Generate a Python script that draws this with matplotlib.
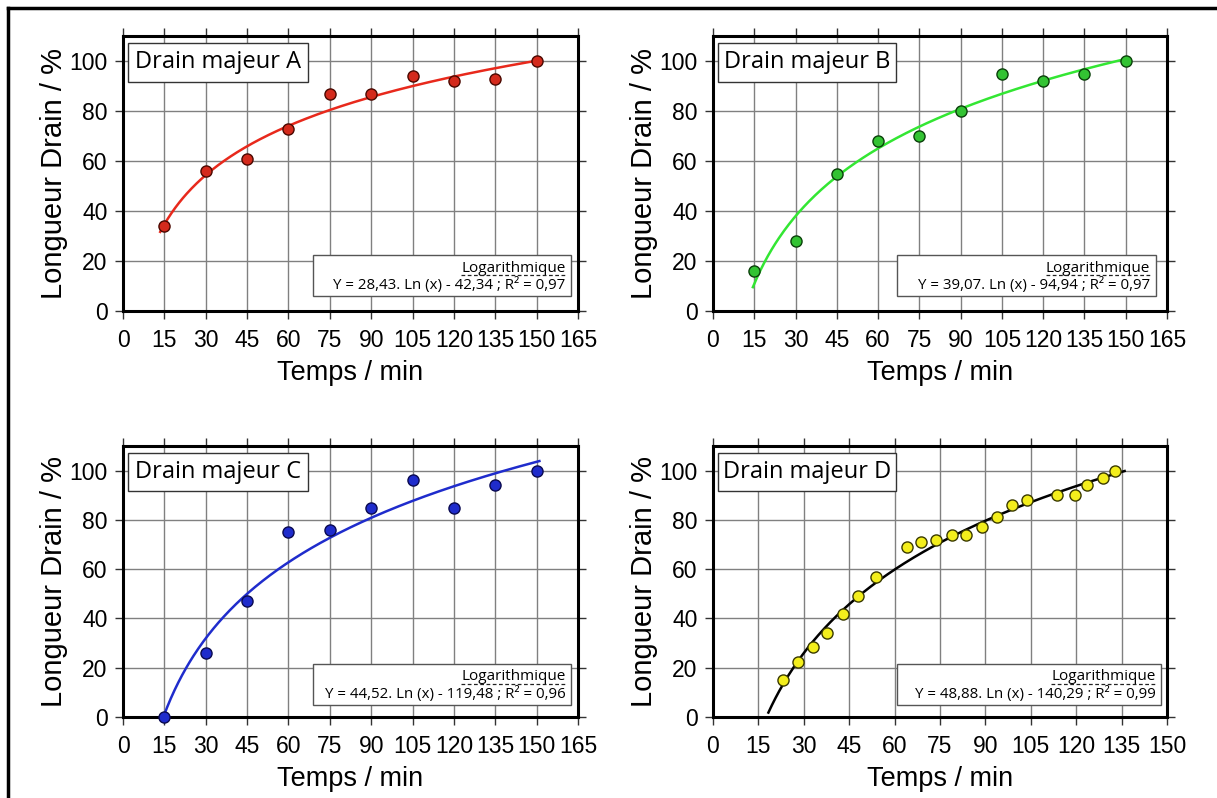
import numpy as np
import matplotlib
matplotlib.use("Agg")
import matplotlib.pyplot as plt
from matplotlib.patches import Rectangle
from matplotlib.lines import Line2D

# ---------------- data ----------------
time_abc = [15, 30, 45, 60, 75, 90, 105, 120, 135, 150]
drain_a = [34, 56, 61, 73, 87, 87, 94, 92, 93, 100]
drain_b = [16, 28, 55, 68, 70, 80, 95, 92, 95, 100]
drain_c = [0, 26, 47, 75, 76, 85, 96, 85, 94, 100]

time_d = [23, 28, 33, 37.7, 43, 48, 54, 64, 68.6, 73.8, 78.9, 83.6, 88.8,
          93.7, 98.7, 103.9, 113.8, 119.7, 123.5, 128.7, 132.8]
drain_d = [15, 22.5, 28.5, 34, 42, 49, 57, 69, 71, 72, 74, 74, 77,
           81, 86, 88, 90, 90, 94, 97, 100]

# logarithmic fits shown on the chart: Y = a.Ln(x) + b
fit_a = (28.43, -42.34)
fit_b = (39.07, -94.94)
fit_c = (44.52, -119.48)
fit_d = (48.88, -140.29)
fit_range_a = (13.5, 150)
fit_range_b = (14.5, 150)
fit_range_c = (14.6, 151)
fit_range_d = (18.3, 136)

titles = ["Drain majeur A", "Drain majeur B", "Drain majeur C", "Drain majeur D"]
eq_texts = ["Y = 28,43. Ln (x) - 42,34 ; R² = 0,97",
            "Y = 39,07. Ln (x) - 94,94 ; R² = 0,97",
            "Y = 44,52. Ln (x) - 119,48 ; R² = 0,96",
            "Y = 48,88. Ln (x) - 140,29 ; R² = 0,99"]
xticks_abc = [0, 15, 30, 45, 60, 75, 90, 105, 120, 135, 150, 165]
xticks_d = [0, 15, 30, 45, 60, 75, 90, 105, 120, 135, 150]
yticks = [0, 20, 40, 60, 80, 100]

W, H = 1217, 798
fig = plt.figure(figsize=(W / 100, H / 100), dpi=100)

def px_axes(left, right, top, bottom):
    return [left / W, 1 - bottom / H, (right - left) / W, (bottom - top) / H]

panels = [
    dict(rect=px_axes(123, 578, 36, 311), x=time_abc, y=drain_a, fit=fit_a, rng=fit_range_a,
         mfc="#d42a1c", mec="#4a0800", lc="#e8291c", xt=xticks_abc, xmax=165,
         tbox=(0.011, 0.833, 0.396, 0.142), ebox=(0.418, 0.055, 0.567, 0.149)),
    dict(rect=px_axes(713, 1167, 36, 311), x=time_abc, y=drain_b, fit=fit_b, rng=fit_range_b,
         mfc="#33c333", mec="#0a400a", lc="#33e633", xt=xticks_abc, xmax=165,
         tbox=(0.011, 0.833, 0.392, 0.142), ebox=(0.405, 0.055, 0.57, 0.149)),
    dict(rect=px_axes(123, 578, 446, 717), x=time_abc, y=drain_c, fit=fit_c, rng=fit_range_c,
         mfc="#1f2ccc", mec="#0a0a50", lc="#1f2ccc", xt=xticks_abc, xmax=165,
         tbox=(0.011, 0.833, 0.396, 0.142), ebox=(0.418, 0.045, 0.567, 0.152)),
    dict(rect=px_axes(713, 1167, 446, 717), x=time_d, y=drain_d, fit=fit_d, rng=fit_range_d,
         mfc="#f3ee1c", mec="#3a3a00", lc="black", xt=xticks_d, xmax=150,
         tbox=(0.011, 0.833, 0.392, 0.142), ebox=(0.405, 0.045, 0.582, 0.152)),
]

label_font = "Liberation Sans"
box_font = "Open Sans"

axes = []
for i, p in enumerate(panels):
    ax = fig.add_axes(p["rect"])
    axes.append(ax)
    ax.set_xlim(0, p["xmax"])
    ax.set_ylim(0, 110)
    ax.set_xticks(p["xt"])
    ax.set_yticks(yticks)
    ax.grid(True, color="#808080", linewidth=1.0)
    ax.set_axisbelow(True)
    for s in ax.spines.values():
        s.set_linewidth(2.2)
        s.set_color("black")
    ax.tick_params(direction="out", length=6, width=1.0, color="#333333",
                   top=True, right=True, labelsize=16.5)
    ax.tick_params(axis="x", pad=7)
    ax.tick_params(axis="y", pad=5)
    for lab in ax.get_xticklabels() + ax.get_yticklabels():
        lab.set_fontfamily(label_font)
    ax.set_xlabel("Temps / min", fontsize=19.5, fontfamily=label_font, labelpad=6)
    ax.set_ylabel("Longueur Drain / %", fontsize=21, fontfamily=label_font, labelpad=1)

    a, b = p["fit"]
    xs = np.linspace(p["rng"][0], p["rng"][1], 300)
    ax.plot(xs, a * np.log(xs) + b, color=p["lc"], linewidth=1.8, zorder=3)
    ax.plot(p["x"], p["y"], linestyle="none", marker="o", markersize=8,
            markerfacecolor=p["mfc"], markeredgecolor=p["mec"], markeredgewidth=1.0,
            zorder=4, clip_on=False)

    # title box
    tx, ty, tw, th = p["tbox"]
    ax.add_patch(Rectangle((tx, ty), tw, th, transform=ax.transAxes, facecolor="white",
                           edgecolor="#333333", linewidth=1.0, zorder=5))
    ax.text(tx + tw / 2, ty + th / 2, titles[i], transform=ax.transAxes, ha="center",
            va="center", fontsize=17, fontfamily=box_font, zorder=6)

    # equation box
    ex, ey, ew, eh = p["ebox"]
    ax.add_patch(Rectangle((ex, ey), ew, eh, transform=ax.transAxes, facecolor="white",
                           edgecolor="#555555", linewidth=1.0, zorder=5))
    t1 = ax.text(ex + ew - 0.012, ey + eh * 0.68, "Logarithmique", transform=ax.transAxes,
                 ha="right", va="center", fontsize=11, fontfamily=box_font, zorder=6)
    ax.text(ex + ew - 0.012, ey + eh * 0.27, eq_texts[i], transform=ax.transAxes,
            ha="right", va="center", fontsize=10.8, fontfamily=box_font, zorder=6)
    p["t1"] = t1

fig.canvas.draw()
renderer = fig.canvas.get_renderer()
for ax, p in zip(axes, panels):
    bb = p["t1"].get_window_extent(renderer).transformed(ax.transAxes.inverted())
    yline = bb.y0 + 0.002
    ax.add_line(Line2D([bb.x0, bb.x1], [yline, yline], transform=ax.transAxes,
                       color="#222222", linewidth=0.9, linestyle=(0, (3, 2)), zorder=6))

# outer figure frame (top and left edges visible)
fig.add_artist(Line2D([8 / W, 1.0], [1 - 8 / H, 1 - 8 / H], transform=fig.transFigure,
                      color="black", linewidth=2.5))
fig.add_artist(Line2D([8 / W, 8 / W], [0, 1 - 8 / H], transform=fig.transFigure,
                      color="black", linewidth=2.5))

fig.savefig("out.png", dpi=100)
